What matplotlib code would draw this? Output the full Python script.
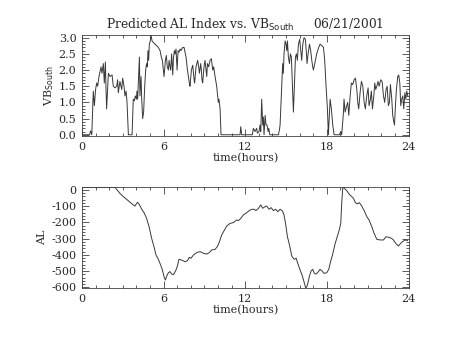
import matplotlib
matplotlib.use("Agg")
import matplotlib.pyplot as plt
from matplotlib.ticker import MultipleLocator, FormatStrFormatter

# Southward IMF (VB_South) time series, hours since 00 UT
vb_time = [0.00, 0.55, 0.64, 0.72, 0.83, 0.91, 1.00, 1.08, 1.15, 1.25, 1.40, 1.47, 1.57, 1.64,
           1.72, 1.76, 1.81, 1.94, 2.06, 2.21, 2.30, 2.43, 2.55, 2.62, 2.67, 2.79, 2.92, 2.99,
           3.09, 3.16, 3.24, 3.31, 3.36, 3.41, 3.68, 3.77, 3.85, 3.92, 4.00, 4.04, 4.09, 4.22,
           4.26, 4.34, 4.39, 4.46, 4.53, 4.61, 4.68, 4.75, 4.80, 4.85, 4.90, 4.95, 5.02, 5.07,
           5.15, 5.25, 5.37, 5.49, 5.61, 5.74, 5.83, 5.91, 5.98, 6.03, 6.13, 6.20, 6.27, 6.35,
           6.40, 6.47, 6.52, 6.59, 6.67, 6.72, 6.79, 6.84, 6.91, 6.99, 7.06, 7.13, 7.21, 7.28,
           7.40, 7.50, 7.60, 7.65, 7.75, 7.82, 7.89, 7.94, 8.04, 8.14, 8.24, 8.28, 8.38, 8.50,
           8.58, 8.63, 8.73, 8.77, 8.82, 8.87, 8.97, 9.04, 9.12, 9.17, 9.22, 9.31, 9.41, 9.51,
           9.61, 9.68, 9.78, 9.90, 10.02, 10.07, 10.15, 10.22, 11.62, 11.67, 11.74, 12.52,
           12.60, 12.72, 12.84, 12.89, 13.01, 13.09, 13.14, 13.21, 13.28, 13.33, 13.38, 13.46,
           13.53, 13.60, 13.68, 13.73, 13.80, 14.44, 14.51, 14.56, 14.63, 14.71, 14.75, 14.80,
           14.85, 14.93, 15.00, 15.05, 15.10, 15.17, 15.25, 15.32, 15.39, 15.47, 15.54, 15.61,
           15.69, 15.76, 15.83, 15.91, 16.00, 16.08, 16.15, 16.23, 16.32, 16.42, 16.50, 16.54,
           16.62, 16.72, 16.81, 16.89, 16.96, 17.01, 17.11, 17.25, 17.40, 17.50, 17.65, 17.75,
           17.84, 17.94, 18.04, 18.11, 18.24, 18.33, 18.43, 18.53, 18.92, 19.02, 19.09, 19.22,
           19.26, 19.34, 19.46, 19.53, 19.61, 19.71, 19.80, 19.90, 20.00, 20.10, 20.20, 20.27,
           20.34, 20.44, 20.54, 20.64, 20.74, 20.83, 20.93, 21.03, 21.10, 21.20, 21.27, 21.35,
           21.45, 21.52, 21.59, 21.67, 21.76, 21.84, 21.96, 22.06, 22.16, 22.25, 22.35, 22.43,
           22.52, 22.60, 22.67, 22.77, 22.84, 22.92, 22.97, 23.04, 23.11, 23.21, 23.28, 23.36,
           23.43, 23.50, 23.58, 23.65, 23.73, 23.80, 23.87, 23.95]
vb_south = [0.0, 0.0, 0.12, 0.0, 1.35, 0.9, 1.4, 1.6, 1.5, 1.8, 2.1, 1.9, 2.2, 1.6,
            2.25, 1.5, 0.8, 1.9, 1.8, 1.85, 1.5, 1.45, 1.5, 1.7, 1.3, 1.65, 1.4, 1.75,
            1.5, 1.2, 1.35, 1.0, 0.5, 0.0, 0.0, 1.1, 1.05, 1.2, 1.1, 1.35, 1.1, 2.4,
            1.2, 1.8, 1.1, 0.5, 0.7, 1.5, 2.0, 2.2, 2.1, 2.6, 2.3, 2.8, 2.9, 3.08,
            2.9, 2.85, 2.8, 2.75, 2.7, 2.6, 2.4, 2.3, 2.0, 1.8, 2.3, 2.45, 2.1, 2.0,
            2.3, 2.1, 2.0, 2.5, 1.85, 2.35, 2.6, 2.5, 2.65, 2.0, 2.6, 2.55, 2.65, 2.6,
            2.7, 2.7, 2.5, 2.4, 2.0, 1.8, 1.6, 1.5, 2.0, 2.15, 1.7, 1.6, 2.1, 2.3,
            2.1, 1.9, 2.2, 2.0, 1.7, 1.6, 2.1, 2.3, 2.0, 1.8, 2.2, 2.1, 2.3, 2.35,
            2.0, 2.1, 1.8, 1.5, 1.0, 1.1, 0.8, 0.0, 0.0, 0.25, 0.0, 0.0,
            0.2, 0.1, 0.2, 0.05, 0.1, 0.3, 0.1, 1.1, 0.3, 0.55, 0.0, 0.6,
            0.3, 0.3, 0.1, 0.2, 0.0, 0.0, 0.15, 0.3, 1.0, 1.8, 2.2, 1.9,
            2.5, 2.9, 2.8, 2.6, 2.9, 2.4, 2.2, 2.5, 2.4, 1.5, 0.7, 1.5,
            2.4, 2.5, 2.3, 2.8, 2.95, 2.6, 2.3, 2.8, 3.0, 2.95, 2.5, 2.2,
            2.5, 2.8, 2.6, 2.3, 2.1, 2.0, 2.2, 2.5, 2.7, 2.8, 2.75, 2.7,
            2.3, 1.5, 0.8, 0.0, 1.1, 0.8, 0.3, 0.0, 0.0, 0.1, 0.0, 0.7,
            1.1, 0.7, 0.9, 1.0, 0.6, 1.2, 1.6, 1.55, 1.7, 1.75, 1.4, 1.0,
            0.8, 1.3, 1.65, 1.5, 1.0, 0.8, 1.2, 1.45, 0.9, 1.1, 1.35, 0.8,
            1.2, 1.6, 1.4, 1.5, 1.65, 1.5, 1.7, 1.65, 1.2, 1.0, 1.4, 1.5,
            0.9, 1.0, 1.55, 1.1, 0.6, 0.4, 0.3, 0.9, 1.4, 1.8, 1.85, 1.6,
            0.9, 1.1, 1.2, 0.8, 1.3, 1.1, 1.35, 1.2]

# Predicted AL index (nT)
al_time = [0.00, 2.43, 2.55, 2.79, 3.04, 3.28, 3.53, 3.77, 3.90, 4.02, 4.09, 4.22, 4.39,
           4.56, 4.75, 4.93, 5.12, 5.29, 5.44, 5.61, 5.78, 5.91, 6.03, 6.13, 6.23, 6.35,
           6.47, 6.59, 6.72, 6.89, 7.01, 7.13, 7.33, 7.57, 7.75, 7.89, 8.01, 8.19, 8.43,
           8.68, 8.92, 9.17, 9.36, 9.53, 9.78, 9.95, 10.10, 10.27, 10.47, 10.64, 10.88,
           11.13, 11.37, 11.50, 11.67, 11.86, 12.11, 12.30, 12.48, 12.65, 12.79, 12.97,
           13.14, 13.28, 13.46, 13.58, 13.75, 13.90, 14.07, 14.24, 14.39, 14.56, 14.73,
           14.85, 14.98, 15.10, 15.25, 15.42, 15.59, 15.74, 15.86, 16.03, 16.20, 16.35,
           16.45, 16.57, 16.72, 16.84, 16.96, 17.08, 17.21, 17.38, 17.50, 17.62, 17.79,
           17.99, 18.14, 18.24, 18.41, 18.60, 18.80, 18.92, 19.02, 19.09, 19.17, 19.29,
           19.46, 19.63, 19.78, 19.95, 20.10, 20.25, 20.39, 20.56, 20.74, 20.93, 21.10,
           21.30, 21.47, 21.67, 21.91, 22.16, 22.35, 22.55, 22.75, 22.89, 23.06, 23.26,
           23.38, 23.55, 23.75, 23.92]
al_index = [16, 16, 4, -21, -41, -58, -76, -92, -99, -82, -76, -90, -119,
            -140, -175, -226, -298, -349, -401, -427, -462, -493, -534, -555, -530, -510,
            -503, -518, -522, -497, -469, -427, -432, -442, -436, -415, -421, -401, -386,
            -380, -390, -395, -386, -370, -366, -349, -319, -277, -247, -222, -206,
            -201, -185, -189, -175, -154, -140, -127, -119, -119, -127, -113,
            -92, -113, -103, -99, -119, -109, -127, -119, -134, -119, -129,
            -154, -216, -288, -339, -407, -427, -421, -452, -493, -530, -575,
            -606, -586, -530, -499, -489, -514, -518, -503, -489, -497, -514,
            -510, -489, -452, -401, -333, -277, -243, -206, -82, 16, 10,
            -4, -25, -37, -51, -78, -86, -78, -99, -127, -164, -185,
            -226, -267, -304, -308, -308, -288, -292, -298, -308, -329, -345,
            -333, -319, -308, -312]

hour_ticks = [0, 6, 12, 18, 24]

plt.rcParams["font.family"] = "DejaVu Serif"
plt.rcParams["font.size"] = 8
plt.rcParams["axes.unicode_minus"] = False
plt.rcParams["text.color"] = "#282828"
plt.rcParams["axes.labelcolor"] = "#282828"

fig = plt.figure(figsize=(4.54, 3.41), dpi=100)
ax1 = fig.add_axes([0.1806, 0.601, 0.7192, 0.297])
ax2 = fig.add_axes([0.1806, 0.1545, 0.7192, 0.2965])

line_kw = dict(color="#383838", lw=0.7)
ax1.plot(vb_time, vb_south, **line_kw)
ax2.plot(al_time, al_index, **line_kw)

for ax in (ax1, ax2):
    ax.set_xlim(0, 24)
    ax.set_xticks(hour_ticks)
    ax.xaxis.set_minor_locator(MultipleLocator(1))
    ax.set_xlabel("time(hours)", labelpad=1)
    ax.tick_params(which="both", direction="in", top=True, right=True,
                   colors="#404040", labelcolor="#282828", width=0.6)
    ax.tick_params(which="major", length=5, pad=4)
    ax.tick_params(which="minor", length=2.5)
    for s in ax.spines.values():
        s.set_linewidth(0.6)
        s.set_color("#404040")

ax1.set_ylim(-0.04, 3.09)
ax1.yaxis.set_major_locator(MultipleLocator(0.5))
ax1.yaxis.set_minor_locator(MultipleLocator(0.1))
ax1.yaxis.set_major_formatter(FormatStrFormatter("%.1f"))
ax1.set_ylabel(r"VB$_{\mathrm{South}}$", labelpad=2)
ax1.set_title(r"Predicted AL Index vs. VB$_{\mathrm{South}}$     06/21/2001",
              fontsize=8.8, pad=4)

ax2.set_ylim(-606, 17)
ax2.yaxis.set_major_locator(MultipleLocator(100))
ax2.yaxis.set_minor_locator(MultipleLocator(20))
ax2.set_ylabel("AL", labelpad=3)

fig.savefig("out.png", dpi=100, facecolor="white")
